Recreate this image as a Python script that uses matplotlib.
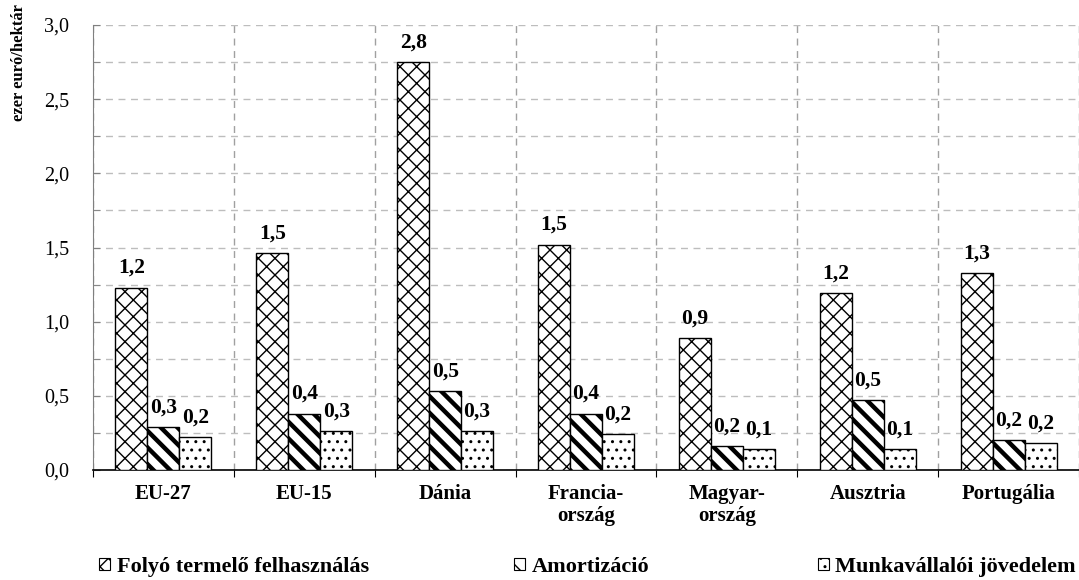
import numpy as np
import matplotlib
matplotlib.use("Agg")
import matplotlib.pyplot as plt
from matplotlib.patches import Patch

plt.rcParams['font.family'] = ['Liberation Serif', 'DejaVu Serif']
plt.rcParams['hatch.linewidth'] = 1.0

orszagok = ["EU-27", "EU-15", "Dánia", "Francia-\nország", "Magyar-\nország",
            "Ausztria", "Portugália"]
sorozatok = ["Folyó termelő felhasználás", "Amortizáció", "Munkavállalói jövedelem"]
folyo = [1.23, 1.46, 2.75, 1.52, 0.89, 1.19, 1.33]
amortizacio = [0.29, 0.38, 0.53, 0.38, 0.16, 0.47, 0.20]
munkavallaloi = [0.22, 0.26, 0.26, 0.24, 0.14, 0.14, 0.18]

mintak = ['xx', '\\\\', '..']
vonalvastag = [1.0, 3.2, 1.0]

fig = plt.figure(figsize=(10.79, 5.80), dpi=100)
ax = fig.add_axes([93/1079, 1 - 470/580, 1 - 93/1079, (470 - 25)/580])

x = np.arange(len(orszagok))
w = 0.227
for i, (vals, minta) in enumerate(zip([folyo, amortizacio, munkavallaloi], mintak)):
    with plt.rc_context({'hatch.linewidth': vonalvastag[i]}):
        bars = ax.bar(x + (i - 1) * w, vals, w, color='white', edgecolor='black',
                      linewidth=1.0, hatch=minta, zorder=3)
    for b, v in zip(bars, vals):
        ax.annotate(f"{v:.1f}".replace('.', ','), (b.get_x() + w / 2, v),
                    xytext=(0, 10.5), textcoords='offset points', ha='center',
                    va='baseline', fontsize=15.5, fontweight='bold', zorder=4)

ax.set_xlim(-0.5, 6.5)
ax.set_ylim(0, 3.0)
ax.set_yticks(np.arange(0, 3.01, 0.5))
ax.set_yticks(np.arange(0, 3.01, 0.25), minor=True)
ax.set_yticklabels([f"{t:.1f}".replace('.', ',') for t in np.arange(0, 3.01, 0.5)],
                   fontsize=14.5)
ax.set_xticks(np.arange(-0.5, 6.6, 1))
ax.set_xticklabels([])
ax.set_xticks(x, minor=True)
ax.set_xticklabels(orszagok, minor=True, fontsize=15, fontweight='bold',
                   linespacing=1.15)
ax.tick_params(axis='x', which='major', length=5, direction='out', color='black')
ax.tick_params(axis='x', which='minor', length=0, pad=10)
ax.tick_params(axis='y', which='both', length=5, direction='in', color='#808080', pad=17)

ax.grid(True, axis='y', which='both', linestyle=(0, (5, 4)), color='#bdbdbd',
        linewidth=1.0, zorder=0)
ax.grid(True, axis='x', which='major', linestyle=(0, (5, 4)), color='#a0a0a0',
        linewidth=1.0, zorder=0)

for s in ['top', 'right']:
    ax.spines[s].set_visible(False)
ax.spines['left'].set_color('#808080')
ax.spines['bottom'].set_color('black')
ax.spines['bottom'].set_linewidth(1.2)

fig.text(19/1079, 1 - 63/580, "ezer euró/hektár", rotation=90, ha='center',
         va='center', fontsize=12, fontweight='bold')

# three legend entries spread along the bottom
hely = [(99, 'center left'), (514, 'center left'), (1076, 'center right')]
for nev, minta, lw, (xp, loc) in zip(sorozatok, mintak, vonalvastag, hely):
    with plt.rc_context({'hatch.linewidth': lw}):
        h = Patch(facecolor='white', edgecolor='black', hatch=minta, linewidth=0.8)
    fig.legend(handles=[h], labels=[nev], loc=loc,
               bbox_to_anchor=(xp/1079, 1 - 567/580), frameon=False,
               prop={'size': 16, 'weight': 'bold'}, handlelength=0.5,
               handleheight=0.5, handletextpad=0.3, borderpad=0, borderaxespad=0)

fig.savefig("out.png", dpi=100)
